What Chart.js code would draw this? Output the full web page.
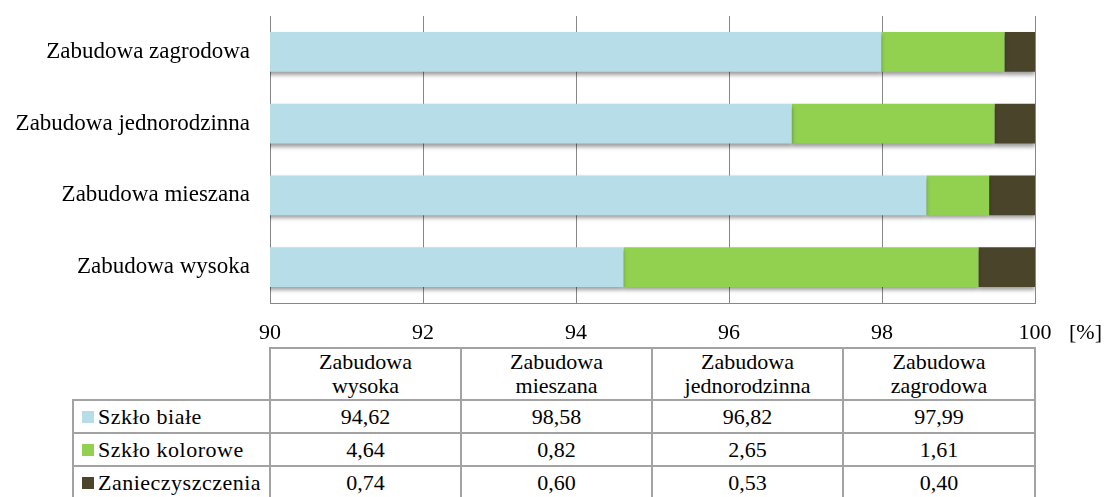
<!DOCTYPE html>
<html><head><meta charset="utf-8">
<script src="https://cdn.jsdelivr.net/npm/chart.js@4/dist/chart.umd.min.js"></script>
<style>
html,body{margin:0;padding:0;background:#fff;width:1105px;height:497px;overflow:hidden;font-family:"Liberation Serif","Tinos","DejaVu Serif",serif;color:#000;}
#wrap{position:absolute;left:0;top:0;width:1105px;height:345px;}
#unit{position:absolute;left:1069px;top:319px;font-size:22px;line-height:26px;}
#tbl{position:absolute;left:72px;top:347px;border-collapse:collapse;table-layout:fixed;font-size:22px;}
#tbl td{border:2px solid #a3a3a3;text-align:center;padding:0;white-space:nowrap;}
#tbl td.empty{border-top:none;border-left:none;}
#tbl tr.head td{height:50px;line-height:24px;}
#tbl tr.row td{height:31px;line-height:28px;}
#tbl td.leg{text-align:left;padding-left:8px;letter-spacing:0.5px;}
#tbl td.leg span.sq{display:inline-block;width:12px;height:12px;margin-right:4px;vertical-align:1px;}
</style>
</head><body>
<div id="wrap"><canvas id="c" width="1105" height="345"></canvas></div>
<div id="unit">[%]</div>
<table id="tbl"><colgroup><col style="width:197px"><col style="width:191px"><col style="width:191px"><col style="width:191px"><col style="width:192px"></colgroup><tbody id="tb"></tbody></table>
<script>
const categories = ["Zabudowa wysoka", "Zabudowa mieszana", "Zabudowa jednorodzinna", "Zabudowa zagrodowa"];
const seriesNames = ["Szkło białe", "Szkło kolorowe", "Zanieczyszczenia"];
const szkloBiale = [94.62, 98.58, 96.82, 97.99];
const szkloKolorowe = [4.64, 0.82, 2.65, 1.61];
const zanieczyszczenia = [0.74, 0.60, 0.53, 0.40];
const seriesColors = ["#B7DDE8", "#92D050", "#4A452A"];
const xTicks = [90, 92, 94, 96, 98, 100];

const seriesValues = [szkloBiale, szkloKolorowe, zanieczyszczenia];
const FONT = "'Liberation Serif', Tinos, 'DejaVu Serif', serif";
const GRID = "#878787";

const shadowPlugin = {
  id: 'barShadow',
  beforeDatasetsDraw(chart) {
    const ctx = chart.ctx;
    ctx.save();
    ctx.shadowColor = 'rgba(0,0,0,0.38)';
    ctx.shadowBlur = 4;
    ctx.shadowOffsetY = 3;
  },
  afterDatasetsDraw(chart) { chart.ctx.restore(); }
};

new Chart(document.getElementById('c'), {
  type: 'bar',
  data: {
    labels: categories,
    datasets: seriesNames.map((n, i) => ({
      label: n, data: seriesValues[i], backgroundColor: seriesColors[i], borderWidth: 0
    }))
  },
  options: {
    indexAxis: 'y',
    responsive: false,
    animation: false,
    layout: { padding: { left: 0, right: 70, top: 16, bottom: 0 } },
    plugins: { legend: { display: false }, tooltip: { enabled: false } },
    datasets: { bar: { barPercentage: 0.557, categoryPercentage: 1 } },
    scales: {
      x: {
        stacked: true, min: 90, max: 100,
        afterBuildTicks: s => { s.ticks = xTicks.map(v => ({ value: v })); },
        grid: { color: GRID, lineWidth: 1, drawTicks: false },
        border: { color: GRID, width: 1 },
        ticks: { font: { family: FONT, size: 22 }, color: '#000', padding: 17, maxRotation: 0 },
        afterFit: s => { s.height = 42; s.paddingLeft = 0; s.paddingRight = 0; }
      },
      y: {
        stacked: true, reverse: true,
        grid: { display: false, drawTicks: false },
        border: { color: GRID, width: 1 },
        ticks: { font: { family: FONT, size: 23 }, color: '#000', padding: 20 },
        afterFit: s => { s.width = 270; s.paddingTop = 0; s.paddingBottom = 0; }
      }
    }
  },
  plugins: [shadowPlugin]
});

// data table
const tb = document.getElementById('tb');
let html = '<tr class="head"><td class="empty"></td>';
categories.forEach(c => {
  const parts = c.split(' ');
  html += '<td>' + parts[0] + '<br>' + parts.slice(1).join(' ') + '</td>';
});
html += '</tr>';
seriesNames.forEach((n, i) => {
  html += '<tr class="row"><td class="leg"><span class="sq" style="background:' + seriesColors[i] + '"></span>' + n + '</td>';
  seriesValues[i].forEach(v => { html += '<td>' + v.toFixed(2).replace('.', ',') + '</td>'; });
  html += '</tr>';
});
tb.innerHTML = html;
</script>
</body></html>
